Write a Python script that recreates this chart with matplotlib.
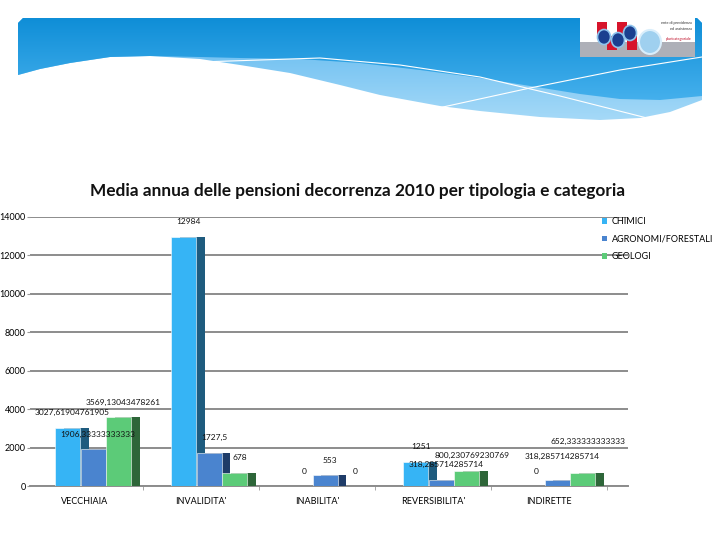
import numpy as np
import matplotlib
matplotlib.use('Agg')
import matplotlib.pyplot as plt
from matplotlib.patches import Polygon, Rectangle, Ellipse, Patch
from matplotlib.colors import LinearSegmentedColormap

plt.rcParams['font.family'] = ['Lato', 'DejaVu Sans']

# dati
categorie = ['VECCHIAIA', "INVALIDITA'", "INABILITA'", "REVERSIBILITA'", 'INDIRETTE']
serie = ['CHIMICI', 'AGRONOMI/FORESTALI', 'GEOLOGI']
chimici = [3027.6190476190477, 12984, 0, 1251, 0]
agronomi = [1906.3333333333333, 1727.5, 553, 318.2857142857143, 318.2857142857143]
geologi = [3569.1304347826087, 678, 0, 800.2307692307693, 652.3333333333334]
y_ticks = [0, 2000, 4000, 6000, 8000, 10000, 12000, 14000]

colori = ['#36b4f5', '#4a84cf', '#5ccb78']
colori_ombra = ['#1e5b7e', '#1f3c68', '#2e6639']
offset_barre = [-0.15, 0.07, 0.29]
w = 0.215
ombra = 0.075

# spostamento etichette (pixel) dove excel le ha messe piu' in alto
label_dy = {(1, 4): 23, (2, 4): 32}

fig = plt.figure(figsize=(7.2, 5.4), dpi=100)

# --- intestazione (onda blu + logo) ---
bg = fig.add_axes([0, 0, 1, 1], zorder=-1)

top = [(18, 23), (23, 18), (697, 18), (702, 23)]
b1 = [(702, 100), (670, 112), (640, 118), (600, 120), (540, 117), (480, 111),
      (440, 106), (380, 95), (340, 85), (290, 73), (240, 65), (200, 59),
      (150, 56), (110, 57), (70, 63), (40, 69), (18, 75)]
b2 = [(702, 96), (660, 100), (620, 99), (580, 94), (530, 86), (480, 78),
      (420, 70), (360, 63), (300, 59), (240, 58), (200, 57),
      (150, 56), (110, 57), (70, 63), (40, 69), (18, 75)]

grad = np.linspace(0, 1, 256).reshape(-1, 1)
light = Polygon(top + b1, closed=True, facecolor='none', edgecolor='none')
bg.add_patch(light)
im1 = bg.imshow(grad, extent=[0, 720, 125, 18], aspect='auto', zorder=1,
                cmap=LinearSegmentedColormap.from_list('l', ['#5ab6ef', '#a9dbf8']))
im1.set_clip_path(light)
dark = Polygon(top + b2, closed=True, facecolor='none', edgecolor='none')
bg.add_patch(dark)
im2 = bg.imshow(grad, extent=[0, 720, 105, 18], aspect='auto', zorder=2,
                cmap=LinearSegmentedColormap.from_list('d', ['#0f8ed7', '#48b2ee']))
im2.set_clip_path(dark)
bg.plot([200, 320, 400, 480, 560, 647], [62, 58, 65, 77, 96, 118], color='white', lw=0.8, zorder=3)
bg.plot([443, 530, 620, 702], [107, 88, 70, 57], color='white', lw=0.8, zorder=3)

# logo
bg.add_patch(Rectangle((580, 18), 115, 39, facecolor='white', edgecolor='none', zorder=4))
bg.add_patch(Rectangle((580, 42), 115, 15, facecolor='#aeb0b8', edgecolor='none', zorder=4))
for xr in [597, 617]:
    bg.add_patch(Rectangle((xr, 22), 10, 14, facecolor='#d7142b', edgecolor='none', zorder=5))
    bg.add_patch(Rectangle((xr + 10, 36), 10, 14, facecolor='#d7142b', edgecolor='none', zorder=5))
for xe, ye in [(604, 37), (618, 40), (630, 33)]:
    bg.add_patch(Ellipse((xe, ye), 13, 15, facecolor='#1b3f8f', edgecolor='#8fc3ec', lw=1.2, zorder=6))
bg.add_patch(Ellipse((650, 42), 22, 24, facecolor='#9fd0ef', edgecolor='#d9eefb', lw=1.5, zorder=6))
bg.text(692, 23, 'ente di previdenza', fontsize=2.8, ha='right', va='center', color='#333', zorder=7)
bg.text(692, 29, 'ed assistenza', fontsize=2.8, ha='right', va='center', color='#333', zorder=7)
bg.text(692, 39, 'pluricategoriale', fontsize=2.8, ha='right', va='center', color='#c0102a', zorder=7)

bg.set_xlim(0, 720)
bg.set_ylim(540, 0)
bg.axis('off')

# --- titolo ---
fig.text(358 / 720, 1 - 191 / 540, 'Media annua delle pensioni decorrenza 2010 per tipologia e categoria',
         ha='center', va='center', fontsize=12.4, fontweight='bold', color='#111111')

# --- grafico ---
ax = fig.add_axes([30 / 720, 54 / 540, 598 / 720, 269 / 540])
x = np.arange(len(categorie))
dati = [chimici, agronomi, geologi]

for i, valori in enumerate(dati):
    ax.bar(x + offset_barre[i] + ombra, valori, w, color=colori_ombra[i], zorder=2 + 2 * i)
    ax.bar(x + offset_barre[i], valori, w, color=colori[i], zorder=3 + 2 * i,
           edgecolor='white', linewidth=0.4)
    for j, v in enumerate(valori):
        testo = f'{v:.15g}'.replace('.', ',')
        ax.annotate(testo, (x[j] + offset_barre[i], v), xytext=(5, label_dy.get((i, j), 15)),
                    textcoords='offset pixels', ha='center', va='center', fontsize=6,
                    color='#111111', zorder=10)

ax.set_xlim(-0.474, 4.681)
ax.set_ylim(0, 14000)
ax.set_yticks(y_ticks)
ax.set_yticklabels([str(t) for t in y_ticks], fontsize=6.5)
ax.set_xticks(x)
ax.set_xticklabels(categorie, fontsize=6.5)
ax.set_xticks(np.arange(0.5, 5, 1), minor=True)
ax.tick_params(axis='x', which='major', length=0, pad=8)
ax.tick_params(axis='x', which='minor', length=3, color='#999999')
ax.tick_params(axis='y', length=2, color='#999999', pad=1)
ax.grid(axis='y', color='#8c8c8c', linewidth=1.4, zorder=0)
ax.set_axisbelow(True)
for s in ['left', 'right', 'top']:
    ax.spines[s].set_visible(False)
ax.spines['bottom'].set_color('#8c8c8c')
ax.spines['bottom'].set_linewidth(1.4)
ax.set_facecolor('none')

handles = [Patch(facecolor=c, edgecolor='none') for c in colori]
ax.legend(handles, serie, loc='upper left', bbox_to_anchor=(568 / 598, 1.013), frameon=False,
          fontsize=6.5, handlelength=0.6, handleheight=0.6, handletextpad=0.5, labelspacing=0.95,
          borderaxespad=0)

fig.savefig('out.png', dpi=100)
